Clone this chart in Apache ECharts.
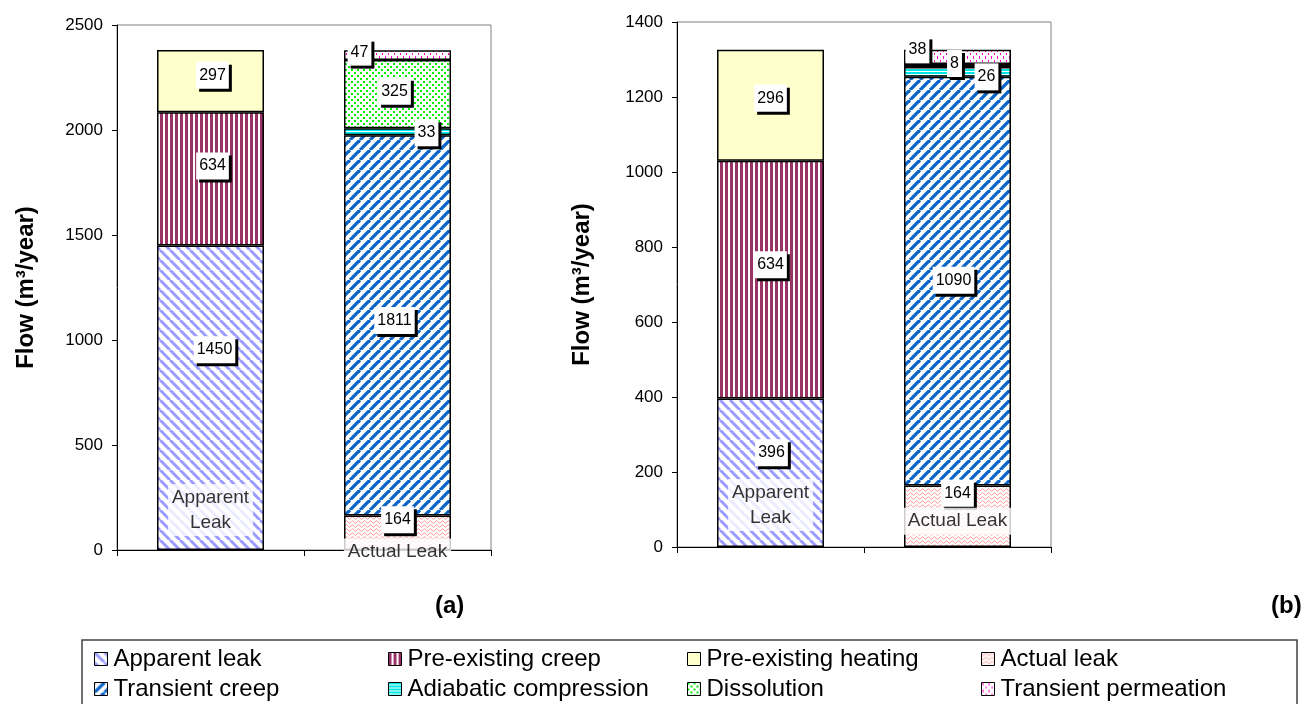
<!DOCTYPE html>
<html>
<head>
<meta charset="utf-8">
<script src="https://cdn.jsdelivr.net/npm/echarts@6/dist/echarts.min.js"></script>
<style>
html,body{margin:0;padding:0;background:#fff;}
#chart{width:1311px;height:704px;}
</style>
</head>
<body>
<div id="chart"></div>
<script>
// ---------------- DATA ----------------
const categories = ['Apparent Leak', 'Actual Leak'];
const seriesNames = ['Apparent leak', 'Pre-existing creep', 'Pre-existing heating', 'Actual leak',
  'Transient creep', 'Adiabatic compression', 'Dissolution', 'Transient permeation'];

// chart (a)
const apparentLeakA = [1450, '-'];
const preCreepA = [634, '-'];
const preHeatingA = [297, '-'];
const actualLeakA = ['-', 164];
const transientCreepA = ['-', 1811];
const adiabaticA = ['-', 33];
const dissolutionA = ['-', 325];
const permeationA = ['-', 47];

// chart (b)
const apparentLeakB = [396, '-'];
const preCreepB = [634, '-'];
const preHeatingB = [296, '-'];
const actualLeakB = ['-', 164];
const transientCreepB = ['-', 1090];
const adiabaticB = ['-', 26];
const dissolutionB = ['-', 8];
const permeationB = ['-', 38];

const yTicksA = { min: 0, max: 2500, interval: 500 };
const yTicksB = { min: 0, max: 1400, interval: 200 };
const panelTitles = ['(a)', '(b)'];
const axisName = 'Flow (m³/year)';

// ---------------- STYLE ----------------
function makeCanvas(w, h, draw) {
  const c = document.createElement('canvas');
  c.width = w; c.height = h;
  const g = c.getContext('2d');
  g.fillStyle = '#fff'; g.fillRect(0, 0, w, h);
  draw(g, w, h);
  return { image: c, repeat: 'repeat' };
}
function diag(color, dir, size, lw) {
  return makeCanvas(size, size, (g, w, h) => {
    g.strokeStyle = color; g.lineWidth = lw;
    for (let k = -1; k <= 1; k++) {
      g.beginPath();
      if (dir === '/') { g.moveTo(k * w, h); g.lineTo(k * w + w, 0); }
      else { g.moveTo(k * w, 0); g.lineTo(k * w + w, h); }
      g.stroke();
    }
  });
}
const patterns = {
  'Apparent leak': diag('#9a9aff', '\\', 10, 3),
  'Transient creep': diag('#0a64c8', '/', 10, 3.3),
  'Pre-existing creep': makeCanvas(5, 5, (g) => { g.fillStyle = '#993366'; g.fillRect(0, 0, 3, 5); }),
  'Pre-existing heating': '#ffffcc',
  'Actual leak': makeCanvas(6, 4, (g) => {
    g.strokeStyle = '#ff8c8c'; g.lineWidth = 1;
    g.beginPath();
    for (let x = 0; x <= 6; x += 0.5) {
      const y = 2 + 1.2 * Math.sin(2 * Math.PI * x / 6);
      if (x === 0) g.moveTo(x, y); else g.lineTo(x, y);
    }
    g.stroke();
  }),
  'Adiabatic compression': makeCanvas(4, 3, (g) => { g.fillStyle = '#00e6e6'; g.fillRect(0, 0, 4, 2); }),
  'Dissolution': makeCanvas(6, 6, (g) => {
    g.fillStyle = '#00f000';
    g.fillRect(0, 0, 2, 2); g.fillRect(3, 3, 2, 2);
  }),
  'Transient permeation': makeCanvas(6, 7, (g) => {
    g.fillStyle = '#ff00cc';
    g.fillRect(1, 0, 1, 3); g.fillRect(4, 4, 1, 2);
  })
};

// label offsets (pixels) for each segment
const labelOffsetA = {
  'Apparent leak': [4, -48], 'Pre-existing creep': [2, -13], 'Pre-existing heating': [2, -6],
  'Actual leak': [0, -13], 'Transient creep': [-3, -5], 'Adiabatic compression': [29, 1],
  'Dissolution': [-3, -3], 'Transient permeation': [-38, -3]
};
const labelOffsetB = {
  'Apparent leak': [1, -20], 'Pre-existing creep': [0, -15], 'Pre-existing heating': [0, -7],
  'Actual leak': [0, -23], 'Transient creep': [-4, -1], 'Adiabatic compression': [29, 5],
  'Dissolution': [-3, -2], 'Transient permeation': [-40, -7]
};
// anchor values for in-bar category captions
const captionAnchorA = [190, 0];
const captionAnchorB = [112, 69];
const captionText = ['Apparent\nLeak', 'Actual Leak'];

const FONT = 'Liberation Sans, Arial, sans-serif';

const dataA = {
  'Apparent leak': apparentLeakA, 'Pre-existing creep': preCreepA, 'Pre-existing heating': preHeatingA,
  'Actual leak': actualLeakA, 'Transient creep': transientCreepA, 'Adiabatic compression': adiabaticA,
  'Dissolution': dissolutionA, 'Transient permeation': permeationA
};
const dataB = {
  'Apparent leak': apparentLeakB, 'Pre-existing creep': preCreepB, 'Pre-existing heating': preHeatingB,
  'Actual leak': actualLeakB, 'Transient creep': transientCreepB, 'Adiabatic compression': adiabaticB,
  'Dissolution': dissolutionB, 'Transient permeation': permeationB
};

function barSeries(idx, dataMap, offsets) {
  return seriesNames.map(name => ({
    name: name,
    type: 'bar',
    xAxisIndex: idx, yAxisIndex: idx,
    stack: 'st' + idx,
    barWidth: 107,
    itemStyle: { color: patterns[name], borderColor: '#000', borderWidth: 1.5 },
    emphasis: { disabled: true },
    label: {
      show: true, position: 'inside', offset: offsets[name],
      color: '#000', fontSize: 16, fontFamily: FONT,
      backgroundColor: '#fff', padding: [4, 3, 7, 3],
      shadowColor: '#000', shadowOffsetX: 3, shadowOffsetY: 3, shadowBlur: 0
    },
    data: dataMap[name]
  }));
}
function captionSeries(idx, anchors, offsets) {
  return {
    type: 'scatter', xAxisIndex: idx, yAxisIndex: idx,
    symbolSize: 1, itemStyle: { color: 'transparent' }, silent: true, z: 5, clip: false,
    label: {
      show: true, position: 'inside', color: '#000', fontSize: 19, fontFamily: FONT,
      lineHeight: 25, backgroundColor: '#fff', padding: [1, 4, 1, 4],
      formatter: p => captionText[p.dataIndex]
    },
    data: categories.map((c, i) => ({ value: [c, anchors[i]], label: { offset: offsets[i] } }))
  };
}

function yAxis(idx, ticks, gap) {
  return {
    type: 'value', gridIndex: idx, min: ticks.min, max: ticks.max, interval: ticks.interval,
    name: axisName, nameLocation: 'middle', nameGap: gap,
    nameTextStyle: { fontSize: 24, fontWeight: 'bold', color: '#000', fontFamily: FONT },
    axisLine: { show: true, lineStyle: { color: '#000', width: 1 } },
    axisTick: { show: true, length: 5, lineStyle: { color: '#000' } },
    axisLabel: { color: '#000', fontSize: 17, fontFamily: FONT, margin: 14, formatter: v => String(v) },
    splitLine: { show: false }
  };
}
function xAxis(idx) {
  return {
    type: 'category', gridIndex: idx, data: categories,
    axisLine: { show: true, lineStyle: { color: '#000', width: 1 } },
    axisTick: { show: true, length: 6, interval: 0, lineStyle: { color: '#000' } },
    axisLabel: { show: false }
  };
}

const legendCols = [[seriesNames[0], seriesNames[4]], [seriesNames[1], seriesNames[5]],
  [seriesNames[2], seriesNames[6]], [seriesNames[3], seriesNames[7]]];
const legendLeft = [94, 388, 687, 981];

const option = {
  animation: false,
  backgroundColor: '#fff',
  title: [
    { text: panelTitles[0], left: 430, top: 589, textStyle: { fontSize: 24, fontWeight: 'bold', color: '#000', fontFamily: FONT } },
    { text: panelTitles[1], left: 1266, top: 589, textStyle: { fontSize: 24, fontWeight: 'bold', color: '#000', fontFamily: FONT } }
  ],
  graphic: [{
    type: 'rect', z: 0, shape: { x: 82, y: 640, width: 1215, height: 80 },
    style: { fill: '#fff', stroke: '#404040', lineWidth: 1.5 }
  }],
  legend: legendCols.map((col, i) => ({
    orient: 'vertical', left: legendLeft[i], top: 647, height: 120, width: 300, data: col,
    icon: 'rect', itemWidth: 13, itemHeight: 13, itemGap: 6, selectedMode: false, z: 10,
    padding: 0,
    itemStyle: { borderColor: '#000', borderWidth: 1 },
    textStyle: { fontSize: 24, color: '#000', fontFamily: FONT, lineHeight: 24, padding: [0, 0, 0, 1] }
  })),
  grid: [
    { left: 117, top: 25, width: 374, height: 525, show: true, borderColor: '#808080', borderWidth: 1, backgroundColor: 'transparent' },
    { left: 677, top: 22, width: 374, height: 525, show: true, borderColor: '#808080', borderWidth: 1, backgroundColor: 'transparent' }
  ],
  xAxis: [xAxis(0), xAxis(1)],
  yAxis: [yAxis(0, yTicksA, 79), yAxis(1, yTicksB, 83)],
  series: [].concat(barSeries(0, dataA, labelOffsetA), barSeries(1, dataB, labelOffsetB),
    [captionSeries(0, captionAnchorA, [[0, 0], [0, 2]]), captionSeries(1, captionAnchorB, [[0, 0], [0, 0]])])
};

const chart = echarts.init(document.getElementById('chart'), null, { renderer: 'canvas' });
chart.setOption(option);
</script>
</body>
</html>
